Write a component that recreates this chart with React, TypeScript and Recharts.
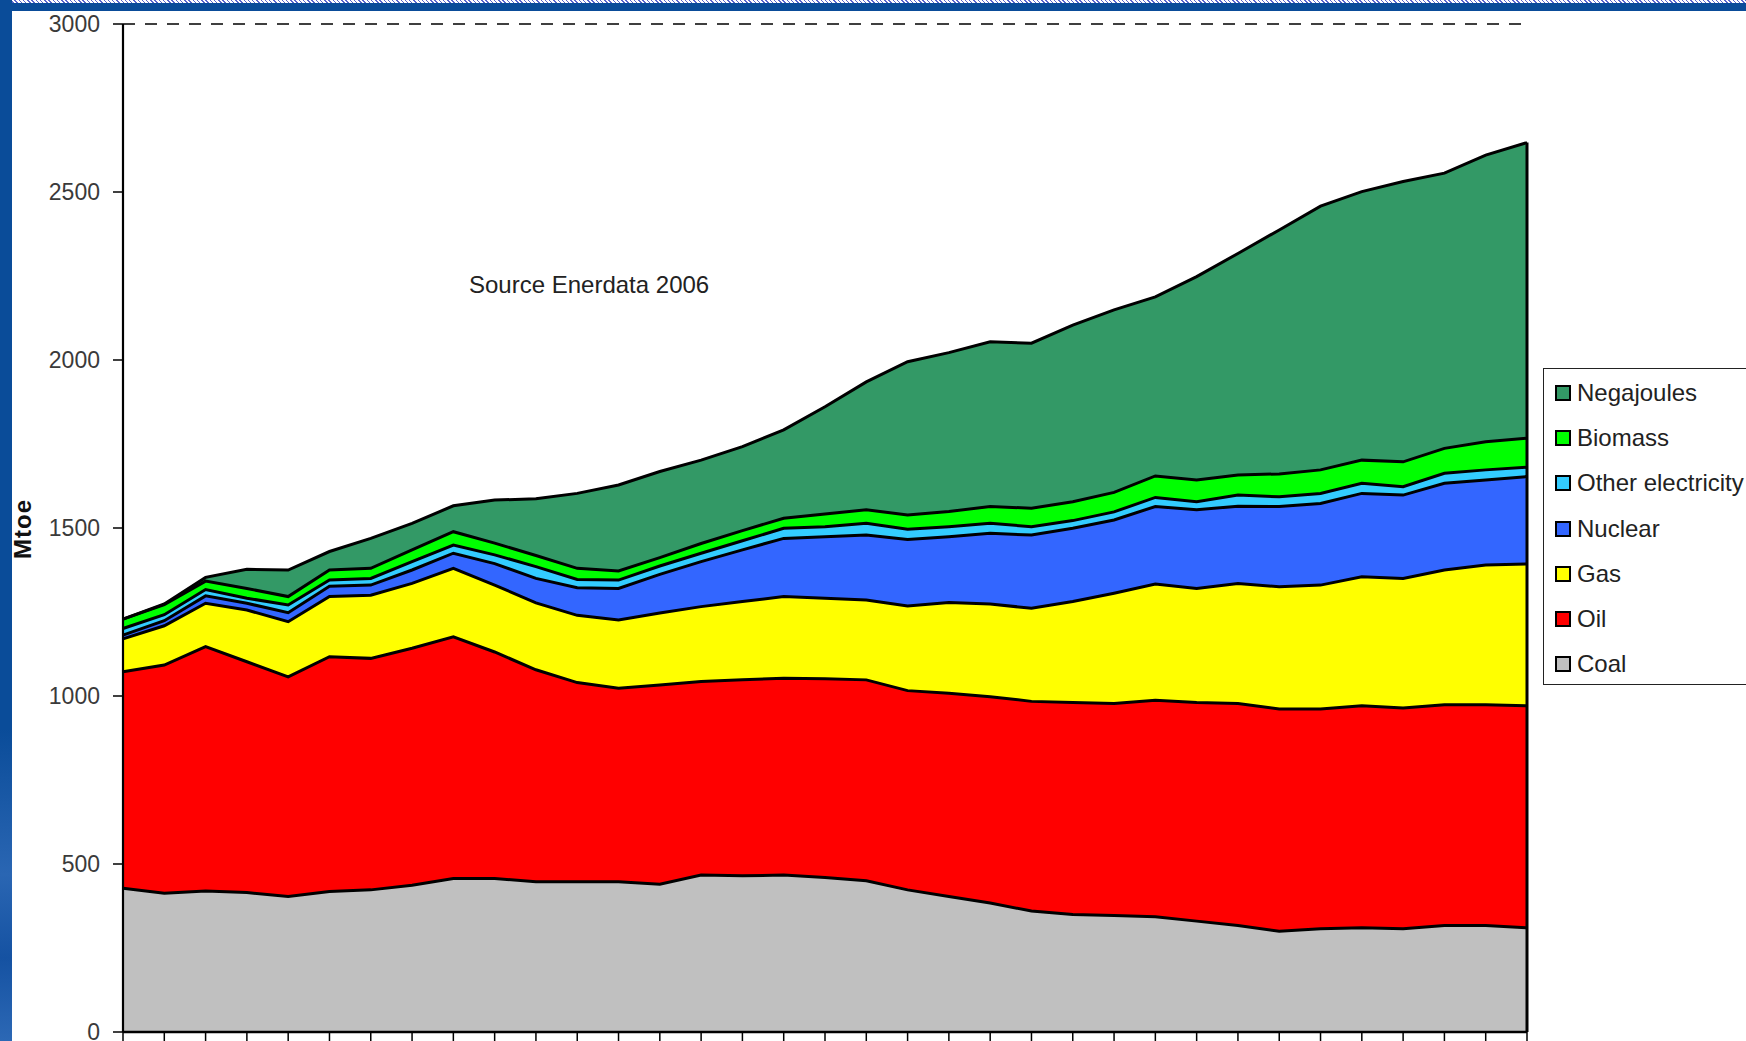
import React from 'react';
import { ComposedChart, Area, Line, XAxis, YAxis, ReferenceLine } from 'recharts';

const years = [
  '1971', '1972', '1973', '1974', '1975', '1976', '1977', '1978', '1979', '1980',
  '1981', '1982', '1983', '1984', '1985', '1986', '1987', '1988', '1989', '1990',
  '1991', '1992', '1993', '1994', '1995', '1996', '1997', '1998', '1999', '2000',
  '2001', '2002', '2003', '2004', '2005',
];

const coal = [428, 413, 420, 415, 403, 418, 423, 437, 457, 457, 447, 447, 447, 440, 467, 465, 467, 460, 450, 423, 403, 384, 360, 350, 347, 343, 330, 317, 300, 307, 310, 307, 317, 317, 310];
const oil = [644, 679, 727, 687, 654, 699, 689, 705, 719, 674, 631, 593, 576, 593, 576, 583, 586, 591, 598, 593, 605, 614, 624, 631, 631, 644, 651, 661, 661, 654, 661, 657, 657, 657, 661];
const gas = [98, 117, 129, 154, 164, 179, 188, 193, 204, 199, 199, 200, 203, 214, 223, 233, 243, 240, 238, 252, 270, 276, 277, 300, 328, 346, 339, 357, 364, 369, 384, 386, 401, 416, 422];
const nuclear = [11, 15, 22, 20, 27, 31, 30, 40, 45, 64, 73, 82, 94, 115, 134, 154, 173, 183, 193, 198, 196, 210, 218, 218, 218, 231, 234, 230, 239, 243, 248, 248, 258, 253, 260];
const otherElectricity = [20, 18, 19, 15, 23, 18, 20, 25, 24, 26, 35, 25, 25, 25, 25, 27, 30, 30, 35, 30, 30, 30, 25, 23, 24, 27, 24, 33, 29, 30, 30, 25, 30, 30, 28];
const biomass = [28, 30, 25, 29, 25, 30, 30, 35, 40, 35, 33, 33, 27, 25, 29, 30, 30, 38, 40, 43, 45, 50, 55, 56, 58, 64, 65, 60, 68, 70, 69, 74, 74, 84, 86];
const negajoules = [0, 2, 11, 57, 79, 55, 89, 79, 77, 128, 169, 223, 256, 256, 248, 250, 263, 319, 381, 456, 473, 490, 491, 526, 543, 533, 605, 659, 726, 785, 799, 834, 819, 853, 880];

const yTicks = [0, 500, 1000, 1500, 2000, 2500, 3000];

const series = [
  { key: 'coal', name: 'Coal', color: '#C0C0C0', values: coal },
  { key: 'oil', name: 'Oil', color: '#FF0000', values: oil },
  { key: 'gas', name: 'Gas', color: '#FFFF00', values: gas },
  { key: 'nuclear', name: 'Nuclear', color: '#3366FF', values: nuclear },
  { key: 'other', name: 'Other electricity', color: '#33CCFF', values: otherElectricity },
  { key: 'biomass', name: 'Biomass', color: '#00FF00', values: biomass },
  { key: 'negajoules', name: 'Negajoules', color: '#339966', values: negajoules },
];

const data = years.map((year, i) => {
  const row: Record<string, any> = { year };
  series.forEach((s) => {
    row[s.key] = s.values[i];
  });
  return row;
});

const lastIndex = years.length - 1;
const lastTotal = series.reduce((acc, s) => acc + s.values[lastIndex], 0);

const FONT = '"Liberation Sans", Arial, Helvetica, sans-serif';
const FRAME_BLUE = '#0A4C99';

const EmptyTick = () => <g />;

export default function App() {
  return (
    <div
      style={{
        position: 'absolute',
        left: 0,
        top: 0,
        width: 1746,
        height: 1041,
        overflow: 'hidden',
        background: '#ffffff',
        fontFamily: FONT,
      }}
    >
      <div style={{ position: 'absolute', left: 0, top: 0 }}>
        <ComposedChart
          width={1746}
          height={1041}
          data={data}
          margin={{ top: 24, right: 219, bottom: 0, left: 13 }}
          style={{ fontFamily: FONT }}
        >
          <XAxis
            dataKey="year"
            interval={0}
            height={9}
            tick={EmptyTick}
            tickSize={12}
            axisLine={{ stroke: '#000', strokeWidth: 2.5 }}
            tickLine={{ stroke: '#000', strokeWidth: 1.5 }}
          />
          <YAxis
            type="number"
            domain={[0, 3000]}
            ticks={yTicks}
            interval={0}
            width={110}
            tickSize={10}
            tickMargin={13}
            axisLine={{ stroke: '#000', strokeWidth: 2.2 }}
            tickLine={{ stroke: '#000', strokeWidth: 1.5 }}
            tick={{ fill: '#3a3a3a', fontSize: 23, fontFamily: FONT }}
          />
          {series.map((s) => (
            <Area
              key={s.key}
              type="linear"
              dataKey={s.key}
              name={s.name}
              stackId="energy"
              fill={s.color}
              fillOpacity={1}
              stroke="none"
              isAnimationActive={false}
              dot={false}
              activeDot={false}
            />
          ))}
          {series.map((s, k) => (
            <Line
              key={'line-' + s.key}
              type="linear"
              dataKey={(d: any) => series.slice(0, k + 1).reduce((acc, t) => acc + d[t.key], 0)}
              stroke="#000"
              strokeWidth={3}
              dot={false}
              activeDot={false}
              legendType="none"
              isAnimationActive={false}
            />
          ))}
          <ReferenceLine
            segment={[
              { x: years[lastIndex], y: 0 },
              { x: years[lastIndex], y: lastTotal },
            ]}
            stroke="#000"
            strokeWidth={3}
          />
          <ReferenceLine y={3000} stroke="#000" strokeWidth={1.5} strokeDasharray="12 10" />
        </ComposedChart>
      </div>

      {/* frame decorations */}
      <div
        style={{
          position: 'absolute',
          left: 0,
          top: 0,
          width: 1746,
          height: 3,
          background: 'repeating-linear-gradient(45deg, #5a66cc 0px, #5a66cc 1px, #ffffff 1px, #ffffff 3px)',
        }}
      />
      <div style={{ position: 'absolute', left: 0, top: 3, width: 1746, height: 8, background: FRAME_BLUE }} />
      <div
        style={{
          position: 'absolute',
          left: 0,
          top: 0,
          width: 12,
          height: 1041,
          background: `linear-gradient(to bottom, ${FRAME_BLUE} 0%, ${FRAME_BLUE} 70%, #2a66b3 84%, #1552a2 92%, #2c68b5 100%)`,
        }}
      />

      {/* axis title */}
      <div
        style={{
          position: 'absolute',
          left: 23,
          top: 529,
          transform: 'translate(-50%, -50%) rotate(-90deg)',
          fontSize: 24,
          fontWeight: 'bold',
          color: '#111',
          letterSpacing: 1,
          whiteSpace: 'nowrap',
          lineHeight: '24px',
        }}
      >
        Mtoe
      </div>

      {/* source note */}
      <div
        style={{
          position: 'absolute',
          left: 469,
          top: 272,
          fontSize: 24,
          lineHeight: '26px',
          color: '#222',
          whiteSpace: 'nowrap',
        }}
      >
        Source Enerdata 2006
      </div>

      {/* legend */}
      <div
        style={{
          position: 'absolute',
          left: 1543,
          top: 368,
          width: 230,
          height: 317,
          boxSizing: 'border-box',
          border: '1.5px solid #222',
          background: '#fff',
          paddingTop: 1,
        }}
      >
        {[...series].reverse().map((s) => (
          <div
            key={'leg-' + s.key}
            style={{ height: 45.3, display: 'flex', alignItems: 'center', position: 'relative' }}
          >
            <div
              style={{
                position: 'absolute',
                left: 11,
                width: 16,
                height: 16,
                boxSizing: 'border-box',
                border: '2px solid #000',
                background: s.color,
              }}
            />
            <span
              style={{
                position: 'absolute',
                left: 33,
                fontSize: 24,
                color: '#222',
                whiteSpace: 'nowrap',
                lineHeight: '26px',
              }}
            >
              {s.name}
            </span>
          </div>
        ))}
      </div>
    </div>
  );
}
